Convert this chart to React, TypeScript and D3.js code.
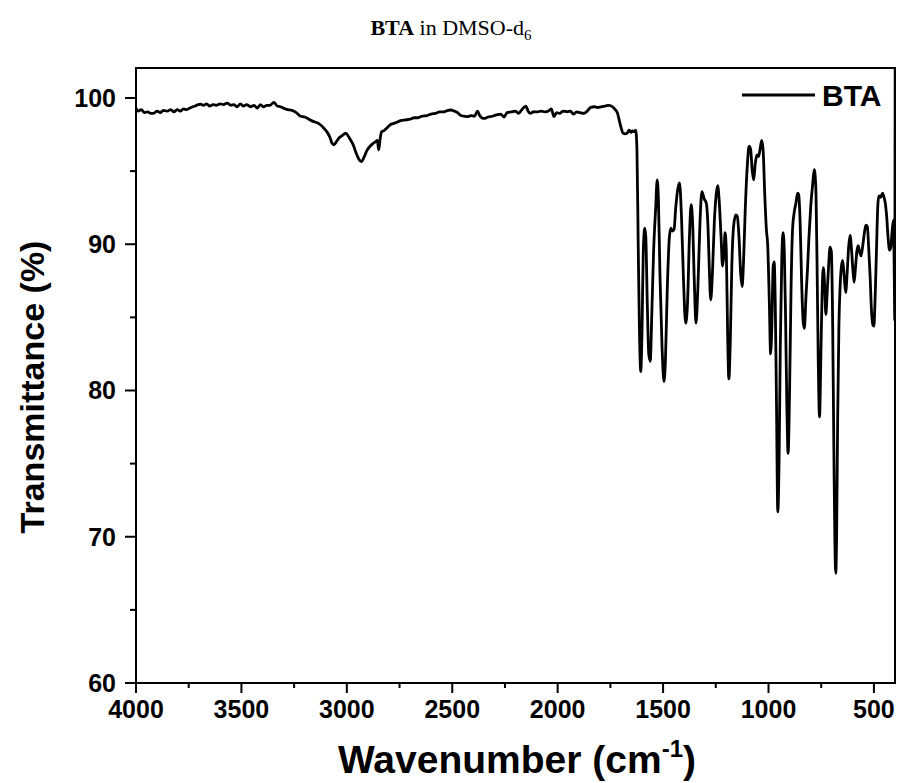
import React from "react";
import * as d3 from "d3";

const wavenumbers = [
  4000, 3990, 3975, 3960, 3945, 3930, 3917, 3900, 3885, 3870, 3852, 3835, 3820, 3805, 3790, 3775, 3760, 3740, 3720, 3705,
  3694, 3680, 3665, 3650, 3635, 3620, 3600, 3585, 3567, 3550, 3535, 3520, 3505, 3490, 3475, 3457, 3440, 3425, 3410, 3395,
  3380, 3365, 3346, 3330, 3315, 3300, 3280, 3260, 3240, 3219, 3200, 3180, 3160, 3140, 3124, 3110, 3095, 3080, 3070, 3061,
  3050, 3035, 3020, 3005, 2998, 2985, 2970, 2955, 2940, 2930, 2920, 2905, 2890, 2875, 2865, 2855, 2849, 2842, 2835, 2825,
  2810, 2790, 2770, 2745, 2720, 2700, 2680, 2665, 2645, 2620, 2600, 2580, 2560, 2540, 2520, 2507, 2490, 2475, 2460, 2440,
  2428, 2410, 2395, 2380, 2370, 2360, 2349, 2330, 2310, 2290, 2270, 2255, 2240, 2220, 2200, 2185, 2170, 2151, 2140, 2130,
  2113, 2095, 2080, 2060, 2040, 2030, 2018, 2005, 1990, 1975, 1954, 1940, 1925, 1910, 1895, 1875, 1860, 1843, 1825, 1810,
  1795, 1775, 1756, 1740, 1730, 1716, 1705, 1698, 1690, 1680, 1670, 1661, 1652, 1645, 1636, 1630, 1624, 1618, 1612, 1606,
  1600, 1594, 1587, 1582, 1575, 1568, 1561, 1553, 1545, 1535, 1528, 1522, 1515, 1505, 1496, 1489, 1480, 1470, 1463, 1456,
  1448, 1440, 1430, 1422, 1413, 1403, 1393, 1384, 1375, 1367, 1360, 1352, 1344, 1335, 1325, 1316, 1305, 1295, 1287, 1280,
  1274, 1266, 1257, 1248, 1241, 1234, 1225, 1218, 1212, 1206, 1200, 1194, 1188, 1181, 1174, 1165, 1155, 1148, 1140, 1132,
  1125, 1118, 1110, 1100, 1092, 1085, 1077, 1070, 1063, 1055, 1047, 1040, 1032, 1025, 1018, 1010, 1004, 996, 990, 984,
  978, 973, 968, 962, 956, 950, 944, 937, 931, 925, 919, 913, 907, 900, 893, 886, 878, 870, 862, 857,
  850, 843, 836, 830, 822, 815, 808, 800, 790, 783, 776, 770, 764, 758, 752, 746, 740, 734, 728, 722,
  715, 708, 702, 696, 690, 685, 681, 677, 672, 666, 660, 654, 648, 641, 634, 627, 620, 613, 606, 600,
  594, 588, 581, 575, 568, 561, 553, 545, 538, 531, 525, 518, 512, 505, 500, 495, 488, 482, 477, 470,
  465, 459, 452, 446, 440, 433, 426, 420, 413, 407, 404, 401, 399,
];

const transmittance = [
  99.3, 99.1, 99.2, 99.0, 99.05, 98.95, 98.95, 99.1, 99.0, 99.15, 99.1, 99.2, 99.05, 99.2, 99.1, 99.25, 99.2, 99.35, 99.45, 99.55,
  99.57, 99.5, 99.6, 99.45, 99.55, 99.5, 99.6, 99.55, 99.65, 99.5, 99.55, 99.4, 99.6, 99.45, 99.55, 99.4, 99.5, 99.3, 99.55, 99.4,
  99.5, 99.5, 99.7, 99.45, 99.4, 99.3, 99.2, 99.15, 99.0, 98.75, 98.7, 98.55, 98.4, 98.3, 98.15, 97.95, 97.7, 97.3, 96.9, 96.8,
  97.0, 97.3, 97.45, 97.6, 97.5, 97.2, 96.8, 96.2, 95.75, 95.65, 95.9, 96.4, 96.7, 96.9, 97.0, 97.1, 96.45, 97.2, 97.7, 97.75,
  97.95, 98.2, 98.3, 98.45, 98.5, 98.55, 98.65, 98.65, 98.75, 98.8, 98.9, 98.95, 99.05, 99.05, 99.15, 99.18, 99.1, 99.0, 98.8, 98.75,
  98.72, 98.8, 98.75, 99.1, 98.8, 98.65, 98.6, 98.7, 98.75, 98.85, 98.9, 98.7, 99.0, 99.05, 99.1, 98.95, 99.2, 99.45, 99.1, 98.95,
  99.06, 99.05, 99.1, 99.05, 99.15, 99.25, 98.72, 99.0, 98.95, 99.1, 99.06, 99.1, 98.9, 99.05, 99.0, 98.95, 99.1, 99.36, 99.4, 99.35,
  99.4, 99.45, 99.5, 99.4, 99.25, 98.95, 98.3, 97.9, 97.6, 97.55, 97.6, 97.8, 97.65, 97.75, 97.7, 97.8, 96.5, 90.0, 84.0, 81.3,
  84.0, 89.5, 91.1, 90.5, 86.0, 82.5, 82.0, 85.5, 89.5, 92.5, 94.4, 93.0, 88.0, 83.0, 80.6, 82.0, 87.0, 90.5, 91.1, 90.9,
  91.0, 92.5, 93.8, 94.2, 92.0, 87.5, 84.6, 86.0, 90.5, 92.7, 91.5, 87.5, 84.6, 87.0, 91.5, 93.6, 93.1, 92.8, 91.2, 88.0,
  86.2, 88.0, 91.5, 93.4, 94.0, 93.0, 90.5, 88.5, 89.2, 90.8, 89.5, 84.0, 80.8, 83.5, 88.5, 91.3, 92.0, 91.9, 90.5, 88.0,
  87.1, 89.0, 92.5, 95.5, 96.7, 96.5, 95.0, 94.4, 95.5, 96.1, 96.0, 96.5, 97.1, 96.3, 93.5, 91.0, 90.0, 86.0, 82.5, 84.5,
  88.5, 88.8, 86.0, 79.0, 71.7, 75.0, 83.0, 89.0, 90.8, 89.5, 85.0, 79.0, 75.7, 80.0, 87.0, 91.0, 92.2, 92.8, 93.5, 93.4,
  91.5, 87.5, 84.8, 84.25, 86.5, 88.3, 90.5, 92.5, 94.2, 95.1, 94.0, 89.0, 82.0, 78.2, 82.0, 86.5, 88.4, 87.3, 85.2, 86.6,
  88.5, 89.8, 89.5, 85.0, 76.0, 69.5, 67.5, 70.0, 78.0, 84.5, 87.2, 88.5, 88.9, 87.8, 86.7, 88.0, 89.8, 90.6, 89.6, 88.3,
  87.4, 88.3, 89.5, 89.9, 89.5, 89.2, 89.9, 90.8, 91.3, 91.2, 89.8, 87.8, 85.6, 84.5, 84.4, 86.0, 89.5, 92.5, 93.3, 93.2,
  93.3, 93.5, 93.2, 92.8, 92.0, 90.5, 89.6, 89.8, 91.0, 91.65, 88.5, 84.8, 104.0,
];

const xMajorTicks = [4000, 3500, 3000, 2500, 2000, 1500, 1000, 500];
const xMinorTicks = [3750, 3250, 2750, 2250, 1750, 1250, 750];
const yMajorTicks = [60, 70, 80, 90, 100];
const yMinorTicks = [65, 75, 85, 95];
const seriesName = "BTA";

const W = 899;
const H = 783;
const left = 136;
const right = 895;
const top = 68;
const bottom = 683;

export default function App() {
  const x = d3.scaleLinear().domain([4000, 400]).range([left, right]);
  const y = d3.scaleLinear().domain([60, 102.05]).range([bottom, top]);
  const pts: [number, number][] = wavenumbers.map((w, i) => [w, transmittance[i]]);
  const line = d3
    .line<[number, number]>()
    .x((d) => x(d[0]))
    .y((d) => y(d[1]))
    .curve(d3.curveMonotoneX);
  const sans = "Liberation Sans, Arial, sans-serif";
  const serif = "Liberation Serif, Times New Roman, serif";

  return (
    <div style={{ position: "absolute", left: 0, top: 0, width: W, height: H, background: "#fff" }}>
      <svg width={W} height={H} style={{ display: "block" }}>
        <rect x={0} y={0} width={W} height={H} fill="#fff" />
        <text x={451} y={35} textAnchor="middle" fontFamily={serif} fontSize={22} fill="#000">
          <tspan fontWeight="bold">BTA</tspan>
          <tspan> in DMSO-d</tspan>
          <tspan fontSize={15} dy={5}>6</tspan>
        </text>

        <defs>
          <clipPath id="plotclip">
            <rect x={left} y={top} width={right - left} height={bottom - top} />
          </clipPath>
        </defs>

        <path
          d={line(pts) || ""}
          fill="none"
          stroke="#000"
          strokeWidth={2.8}
          strokeLinejoin="round"
          clipPath="url(#plotclip)"
        />

        <rect x={left} y={top} width={right - left} height={bottom - top} fill="none" stroke="#000" strokeWidth={2} />

        {xMajorTicks.map((t) => (
          <g key={"xm" + t}>
            <line x1={x(t)} x2={x(t)} y1={bottom} y2={bottom + 10} stroke="#000" strokeWidth={2} />
            <text x={x(t)} y={bottom + 35} textAnchor="middle" fontFamily={sans} fontWeight="bold" fontSize={25}>
              {t}
            </text>
          </g>
        ))}
        {xMinorTicks.map((t) => (
          <line key={"xn" + t} x1={x(t)} x2={x(t)} y1={bottom} y2={bottom + 5} stroke="#000" strokeWidth={2} />
        ))}
        {yMajorTicks.map((t) => (
          <g key={"ym" + t}>
            <line x1={left - 11} x2={left} y1={y(t)} y2={y(t)} stroke="#000" strokeWidth={2} />
            <text x={left - 20} y={y(t) + 9} textAnchor="end" fontFamily={sans} fontWeight="bold" fontSize={25}>
              {t}
            </text>
          </g>
        ))}
        {yMinorTicks.map((t) => (
          <line key={"yn" + t} x1={left - 6} x2={left} y1={y(t)} y2={y(t)} stroke="#000" strokeWidth={2} />
        ))}

        <text
          transform={`translate(44,387) rotate(-90)`}
          textAnchor="middle"
          fontFamily={sans}
          fontWeight="bold"
          fontSize={34}
        >
          Transmittance (%)
        </text>
        <text x={517} y={773} textAnchor="middle" fontFamily={sans} fontWeight="bold" fontSize={39}>
          Wavenumber (cm<tspan fontSize={24} dy={-16}>-1</tspan>
          <tspan dy={16}>)</tspan>
        </text>

        <line x1={742} x2={815} y1={95} y2={95} stroke="#000" strokeWidth={2.8} />
        <text x={822} y={106} fontFamily={sans} fontWeight="bold" fontSize={30}>
          {seriesName}
        </text>
      </svg>
    </div>
  );
}
